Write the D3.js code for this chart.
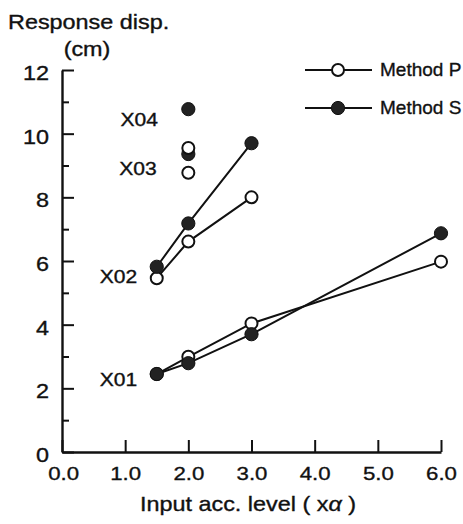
<!DOCTYPE html>
<html>
<head>
<meta charset="utf-8">
<script src="https://cdn.jsdelivr.net/npm/d3@7"></script>
<style>
  html, body { margin: 0; padding: 0; background: #fff; }
  svg { display: block; }
  text { font-family: "Liberation Sans", Arial, Helvetica, sans-serif; fill: #111; stroke: #111; stroke-width: 0.35px; }
</style>
</head>
<body>
<svg id="chart" width="463" height="524"></svg>
<script>
// Input acceleration levels (multiples of alpha)
const levelsX01 = [1.5, 2.0, 3.0, 6.0];
const levelsX02 = [1.5, 2.0, 3.0];
const levelsX03 = [2.0];
const levelsX04 = [2.0];

// Response displacement (cm), Method P (open) and Method S (filled)
const x01P = [2.45, 2.99, 4.04, 5.98];
const x01S = [2.45, 2.79, 3.70, 6.87];
const x02P = [5.46, 6.61, 8.00];
const x02S = [5.82, 7.18, 9.70];
const x03P = [8.77];
const x03S = [9.36];
const x04P = [9.55];
const x04S = [10.77];

const groupNames = ["X01", "X02", "X03", "X04"];
// label anchor (right end of text, baseline) in data units
const groupLabelX = [1.19, 1.19, 1.5, 1.52];
const groupLabelY = [2.07, 5.31, 8.70, 10.24];

const xTicks = [0, 1, 2, 3, 4, 5, 6];
const yTicks = d3.range(0, 13);
const seriesNames = ["Method P", "Method S"];

const groups = [
  { name: groupNames[0], levels: levelsX01, P: x01P, S: x01S },
  { name: groupNames[1], levels: levelsX02, P: x02P, S: x02S },
  { name: groupNames[2], levels: levelsX03, P: x03P, S: x03S },
  { name: groupNames[3], levels: levelsX04, P: x04P, S: x04S }
];

const SX = 1.17; // horizontal stretch of the lettering
const ink = "#111";
const solid = "#222";

const svg = d3.select("#chart");
const x = d3.scaleLinear().domain([0, 6]).range([62, 441]);
const y = d3.scaleLinear().domain([0, 12]).range([452, 70]);

// text helper with horizontal stretch
function label(sel, px, py, str, size, anchor, sx) {
  return sel.append("text")
    .attr("transform", `translate(${px},${py}) scale(${sx || SX},1)`)
    .attr("text-anchor", anchor || "start")
    .style("font-size", size + "px")
    .text(str);
}

// Y axis: inward ticks, long at even values, short at odd
const yAxis = svg.append("g")
  .attr("transform", `translate(${x(0)},0)`)
  .call(d3.axisLeft(y).tickValues(yTicks).tickSizeOuter(0).tickSizeInner(-12).tickPadding(11)
    .tickFormat(d => d % 2 === 0 ? d : ""));
yAxis.select(".domain").attr("stroke", ink).attr("stroke-width", 2.4);
yAxis.selectAll(".tick line").attr("stroke", ink).attr("stroke-width", 2)
  .attr("x2", d => d % 2 === 0 ? 12 : 7);
yAxis.selectAll(".tick text")
  .attr("transform", `scale(${SX},1)`)
  .attr("dy", "0.48em")
  .style("font-size", "20px").style("font-family", null).attr("fill", ink);

// X axis: inward ticks
const xAxis = svg.append("g")
  .attr("transform", `translate(0,${y(0)})`)
  .call(d3.axisBottom(x).tickValues(xTicks).tickSizeOuter(0).tickSizeInner(-12).tickPadding(15)
    .tickFormat(d3.format(".1f")));
xAxis.select(".domain").attr("stroke", ink).attr("stroke-width", 2.4);
xAxis.selectAll(".tick line").attr("stroke", ink).attr("stroke-width", 2);
xAxis.selectAll(".tick text")
  .attr("transform", `scale(${SX},1)`)
  .style("font-size", "19px").style("font-family", null).attr("fill", ink);
// keep label "0.0" clear of the y-axis "0"
xAxis.selectAll(".tick text").filter(d => d === 0).attr("x", 1);

// Axis titles
label(svg, 8, 29, "Response disp.", 20);
label(svg, 87, 56, "(cm)", 20, "middle");
const xt = label(svg, 248, 511, "", 20, "middle");
xt.append("tspan").text("Input acc. level ( x");
xt.append("tspan").style("font-style", "italic").text("α");
xt.append("tspan").text(" )");

// Data lines and markers
const line = d3.line().x(d => x(d[0])).y(d => y(d[1]));
const plot = svg.append("g");
groups.forEach((g, gi) => {
  ["P", "S"].forEach(key => {
    const pts = g.levels.map((lv, i) => [lv, g[key][i]]);
    if (pts.length > 1) {
      plot.append("path").datum(pts).attr("d", line)
        .attr("fill", "none").attr("stroke", ink).attr("stroke-width", 2);
    }
  });
  ["P", "S"].forEach(key => {
    const pts = g.levels.map((lv, i) => [lv, g[key][i]]);
    plot.selectAll(null).data(pts).enter().append("circle")
      .attr("cx", d => x(d[0])).attr("cy", d => y(d[1]))
      .attr("r", key === "P" ? 6 : 6.6)
      .attr("fill", key === "P" ? "#fff" : solid)
      .attr("stroke", ink).attr("stroke-width", key === "P" ? 2 : 1);
  });
  label(svg, x(groupLabelX[gi]), y(groupLabelY[gi]), g.name, 18, "end");
});

// Legend
const legendY = [70, 108];
seriesNames.forEach((name, i) => {
  const lg = svg.append("g");
  lg.append("line").attr("x1", 305).attr("x2", 372).attr("y1", legendY[i]).attr("y2", legendY[i])
    .attr("stroke", ink).attr("stroke-width", 2);
  lg.append("circle").attr("cx", 338).attr("cy", legendY[i])
    .attr("r", i === 0 ? 6 : 6.6)
    .attr("fill", i === 0 ? "#fff" : solid)
    .attr("stroke", ink).attr("stroke-width", i === 0 ? 2 : 1);
  label(lg, 380, legendY[i] + 6, name, 19, "start", 1);
});
</script>
</body>
</html>
